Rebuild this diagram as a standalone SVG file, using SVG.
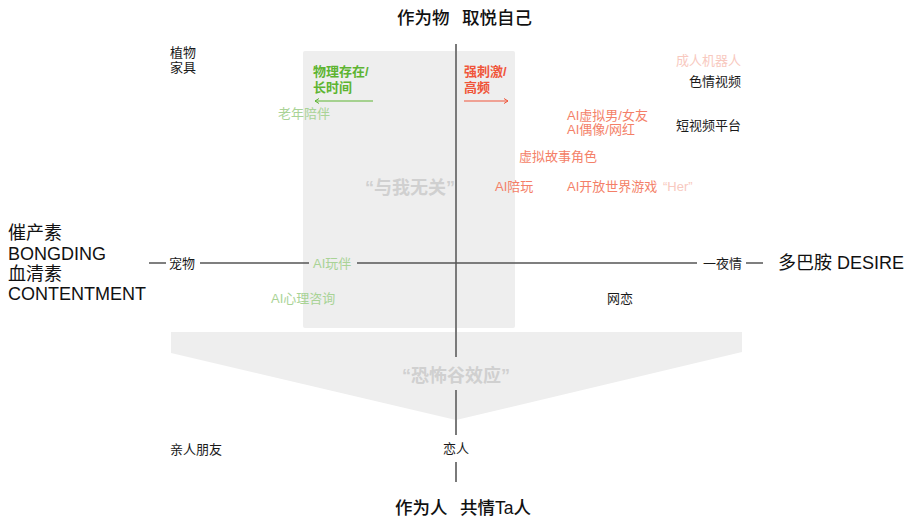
<svg xmlns="http://www.w3.org/2000/svg" width="909" height="522" viewBox="0 0 909 522">
<defs>
<style>
text{font-family:"Liberation Sans","Noto Sans CJK SC",sans-serif;}
.s{font-size:13px;fill:#1a1a1a;}
.t{font-size:17.5px;fill:#111;font-weight:500;}
.big{font-size:18px;fill:#111;}
.dg{font-size:13px;fill:#5db431;font-weight:700;}
.rd{font-size:13px;fill:#f0553a;font-weight:700;}
.lg{font-size:13px;fill:#a9d396;}
.sa{font-size:13px;fill:#f47f68;}
.pk{font-size:13px;fill:#f8c9c0;}
.gz{font-size:18px;fill:#d0d0d0;font-weight:700;}
.axis{stroke:#555;stroke-width:1.5;fill:none;}
.vaxis{stroke:#7a7a7a;stroke-width:2;fill:none;}
.zone{fill:#eeeeee;}
</style>
<marker id="ag" markerWidth="8" markerHeight="8" refX="7" refY="4" orient="auto" markerUnits="userSpaceOnUse">
<path d="M3,1.5 L7,4 L3,6.5" fill="none" stroke="#5db431" stroke-width="1"/>
</marker>
<marker id="ar" markerWidth="8" markerHeight="8" refX="7" refY="4" orient="auto" markerUnits="userSpaceOnUse">
<path d="M3,1.5 L7,4 L3,6.5" fill="none" stroke="#f0553a" stroke-width="1"/>
</marker>
</defs>
<rect width="909" height="522" fill="#ffffff"/>
<g id="zones">
<rect class="zone" x="303" y="51" width="212" height="277" rx="2"/>
<polygon class="zone" points="171,332 742,332 742,352 456,420 171,353"/>
</g>
<g id="connectors">
<line class="vaxis" x1="456" y1="44" x2="456" y2="357"/>
<line class="vaxis" x1="456" y1="390" x2="456" y2="435"/>
<line class="vaxis" x1="456" y1="462" x2="456" y2="482"/>
<line class="axis" x1="149" y1="263" x2="166" y2="263"/>
<line class="axis" x1="200" y1="263" x2="309" y2="263"/>
<line class="axis" x1="357" y1="263" x2="697" y2="263"/>
<line class="axis" x1="746" y1="263" x2="763" y2="263"/>
<line x1="373" y1="101" x2="315" y2="101" stroke="#5db431" stroke-width="1.2" marker-end="url(#ag)"/>
<line x1="464" y1="101" x2="508" y2="101" stroke="#f0553a" stroke-width="1.2" marker-end="url(#ar)"/>
</g>
<g id="title-top"><text class="t" x="397" y="24">作为物</text><text class="t" x="462" y="24">取悦自己</text></g>
<g id="title-bottom"><text class="t" x="395" y="514">作为人</text><text class="t" x="460" y="514">共情Ta人</text></g>
<g id="left-pole"><text class="big" x="8" y="239">催产素</text><text class="big" x="8" y="259.5">BONGDING</text><text class="big" x="8" y="280">血清素</text><text class="big" x="8" y="300">CONTENTMENT</text></g>
<g id="right-pole"><text class="big" x="778" y="268.5">多巴胺 DESIRE</text></g>
<g id="plants"><text class="s" x="170" y="57">植物</text><text class="s" x="170" y="72">家具</text></g>
<g id="physical"><text class="dg" x="313" y="76">物理存在/</text><text class="dg" x="313" y="92">长时间</text></g>
<g id="stimulus"><text class="rd" x="464" y="76">强刺激/</text><text class="rd" x="464" y="92">高频</text></g>
<g id="elderly"><text class="lg" x="278" y="118">老年陪伴</text></g>
<g id="adult-robot"><text class="pk" x="741" y="65" text-anchor="end">成人机器人</text></g>
<g id="porn"><text class="s" x="741" y="86" text-anchor="end">色情视频</text></g>
<g id="short-video"><text class="s" x="741" y="130" text-anchor="end">短视频平台</text></g>
<g id="ai-partner"><text class="sa" x="567" y="120">AI虚拟男/女友</text><text class="sa" x="567" y="134">AI偶像/网红</text></g>
<g id="story-role"><text class="sa" x="519" y="161">虚拟故事角色</text></g>
<g id="ai-play"><text class="sa" x="495" y="191">AI陪玩</text></g>
<g id="ai-game"><text class="sa" x="567" y="191">AI开放世界游戏</text></g>
<g id="her"><text class="pk" x="663" y="191">“Her”</text></g>
<g id="unrelated"><text class="gz" x="410" y="194" text-anchor="middle">“与我无关”</text></g>
<g id="pet"><text class="s" x="169" y="268">宠物</text></g>
<g id="ai-companion"><text class="lg" x="313" y="268">AI玩伴</text></g>
<g id="one-night"><text class="s" x="703" y="268">一夜情</text></g>
<g id="ai-counsel"><text class="lg" x="271" y="303">AI心理咨询</text></g>
<g id="online-love"><text class="s" x="607" y="303">网恋</text></g>
<g id="uncanny"><text class="gz" x="456" y="382" text-anchor="middle">“恐怖谷效应”</text></g>
<g id="family"><text class="s" x="170" y="454">亲人朋友</text></g>
<g id="lover"><text class="s" x="456" y="453" text-anchor="middle">恋人</text></g>
</svg>
